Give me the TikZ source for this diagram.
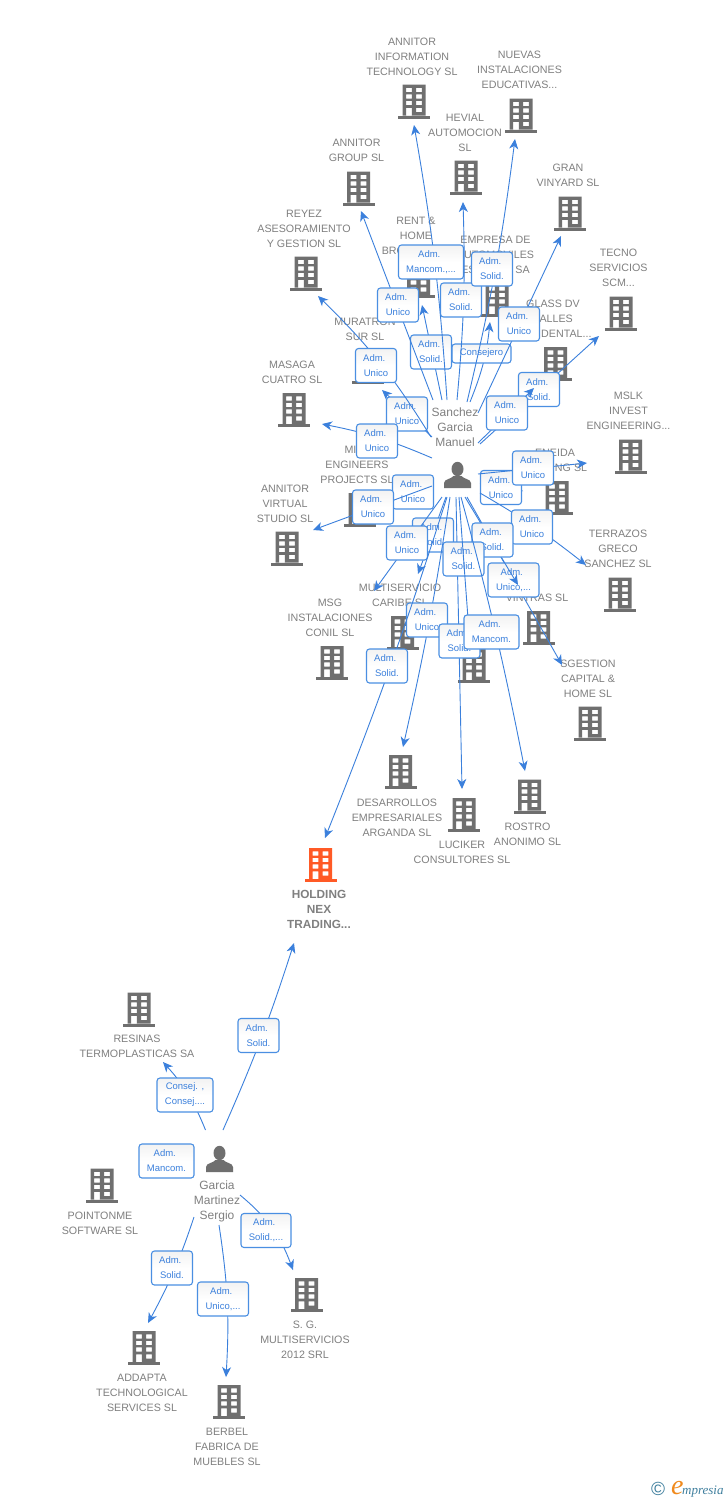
\documentclass[tikz,border=0pt]{standalone}
\usepackage{fontspec}
\setmainfont{Liberation Sans}
\newfontfamily\logofont{Liberation Serif}
\usetikzlibrary{arrows.meta}
\definecolor{linkblue}{HTML}{3B80DC}
\definecolor{edgeblue}{HTML}{4A8FE2}
\definecolor{labelgrey}{HTML}{808080}
\definecolor{iconGrey}{HTML}{6F6F6F}
\definecolor{hotorange}{HTML}{FF5A26}
\definecolor{logoteal}{HTML}{3F7F9E}
\definecolor{logoorange}{HTML}{F08A1D}
\tikzset{
  x=1pt,y=-1pt,
  conn/.style={draw=linkblue,line width=0.9pt,-{Stealth[length=10pt,width=9pt,inset=3pt]}},
  badge/.style={draw=edgeblue,line width=1.1pt,rounded corners=3pt,top color=black!5,bottom color=white,middle color=white,
    minimum height=34pt,inner sep=0pt,align=center,text=linkblue,font=\fontsize{9.5}{15}\selectfont},
  lbl/.style={inner sep=0pt,align=center,yshift=-0.7pt,text=labelgrey,font=\fontsize{10.7}{15}\selectfont},
  perlbl/.style={inner sep=0pt,align=center,text=labelgrey,font=\fontsize{12}{15}\selectfont},
  mainlbl/.style={inner sep=0pt,align=center,text=labelgrey,font=\fontsize{11.8}{15}\selectfont\bfseries},
  iconbox/.style={inner sep=0pt,minimum width=32pt,minimum height=34pt},
}
% building icon as a named node
\newcommand\bldg[3]{%
  \node[iconbox] (#1) at (#2) {};
  \begin{scope}[shift={(#1.center)}]
    \fill[#3,even odd rule]
      (-11.5,-17) rectangle (11.5,14)
      (-7.8,-13.7) rectangle (-2.2,-9.3) (2.2,-13.7) rectangle (7.8,-9.3)
      (-7.8,-7.2) rectangle (-2.2,-2.8) (2.2,-7.2) rectangle (7.8,-2.8)
      (-7.8,-0.7) rectangle (-2.2,3.7) (2.2,-0.7) rectangle (7.8,3.7)
      (-7.8,6.3) rectangle (-2.2,14) (2.2,6.3) rectangle (7.8,10.7);
    \fill[#3] (-16,14) rectangle (16,17);
  \end{scope}}
% person icon as a named node
\newcommand\person[2]{%
  \node[iconbox,minimum width=28pt,minimum height=27pt] (#1) at (#2) {};
  \begin{scope}[shift={(#1.center)}]
    \fill[iconGrey] (0,-6) ellipse (6 and 7.2);
    \fill[iconGrey] (-13.5,13) -- (-13.5,8) .. controls (-13.5,4) and (-6,4) .. (-4,1)
      -- (4,1) .. controls (6,4) and (13.5,4) .. (13.5,8) -- (13.5,13) -- cycle;
  \end{scope}}
% connector with its badge: id, start, tip, bend, badge position, width, text
\newcommand\link[7]{%
  \coordinate (s#1) at (#2);
  \coordinate (t#1) at (#3);
  \draw[conn] (s#1) to[#4] (t#1);
  \node[badge,minimum width=#6pt] (b#1) at (#5) {#7};}
\newcommand\ADM{Adm.\hspace*{3.5pt}}
\newcommand\AU{\ADM\\Unico}
\newcommand\AS{\ADM\\Solid.}
\begin{document}
\begin{tikzpicture}
\useasboundingbox (0,0) rectangle (728,1500);
\fill[white] (0,0) rectangle (728,1500);

% companies
\bldg{cInfo}{414,101.5}{iconGrey}
\node[lbl] (lInfo) at (412,56) {ANNITOR\\INFORMATION\\TECHNOLOGY SL};
\bldg{cNuevas}{521,115.5}{iconGrey}
\node[lbl] (lNuevas) at (519.5,69) {NUEVAS\\INSTALACIONES\\EDUCATIVAS...};
\bldg{cHevial}{466,177.5}{iconGrey}
\node[lbl] (lHevial) at (465,132) {HEVIAL\\AUTOMOCION\\SL};
\bldg{cGroup}{358.5,188.5}{iconGrey}
\node[lbl] (lGroup) at (356.5,149.5) {ANNITOR\\GROUP SL};
\bldg{cGran}{570,213.5}{iconGrey}
\node[lbl] (lGran) at (568,174.5) {GRAN\\VINYARD SL};
\bldg{cReyez}{306,273.5}{iconGrey}
\node[lbl] (lReyez) at (304,228) {REYEZ\\ASESORAMIENTO\\Y GESTION SL};
\bldg{cRent}{418.5,281}{iconGrey}
\node[lbl] (lRent) at (416,235) {RENT \&\\HOME\\BROKERS SL};
\bldg{cEmpresa}{497,300}{iconGrey}
\node[lbl] (lEmpresa) at (495.5,254) {EMPRESA DE\\AUTOMOVILES\\ESCOLAR SA};
\bldg{cTecno}{621,313.5}{iconGrey}
\node[lbl] (lTecno) at (618.5,267) {TECNO\\SERVICIOS\\SCM...};
\bldg{cGlass}{555.5,364}{iconGrey}
\node[lbl] (lGlass) at (553,318) {GLASS DV\\VALLES\\OCCIDENTAL...};
\bldg{cMurat}{367.5,367}{iconGrey}
\node[lbl] (lMurat) at (365,328.5) {MURATRON\\SUR SL};
\bldg{cMasaga}{294,410}{iconGrey}
\node[lbl] (lMasaga) at (292,371.5) {MASAGA\\CUATRO SL};
\bldg{cMslk}{630.5,456.5}{iconGrey}
\node[lbl] (lMslk) at (628.5,410) {MSLK\\INVEST\\ENGINEERING...};
\bldg{cEneida}{557,498}{iconGrey}
\node[lbl] (lEneida) at (555,459.5) {ENEIDA\\TRADING SL};
\bldg{cMi}{360,510}{iconGrey}
\node[lbl] (lMi) at (357,464) {MILA\\ENGINEERS\\PROJECTS SL};
\bldg{cVirtual}{287,548.5}{iconGrey}
\node[lbl] (lVirtual) at (285,503) {ANNITOR\\VIRTUAL\\STUDIO SL};
\bldg{cTerra}{620,594.5}{iconGrey}
\node[lbl] (lTerra) at (618,548) {TERRAZOS\\GRECO\\SANCHEZ SL};
\bldg{cVintras}{538.5,628}{iconGrey}
\node[lbl] (lVintras) at (537,597) {VINTRAS SL};
\bldg{cMulti}{402.5,633}{iconGrey}
\node[lbl] (lMulti) at (400,594.5) {MULTISERVICIO\\CARIBE SL};
\bldg{cMsg}{332,663}{iconGrey}
\node[lbl] (lMsg) at (330,617) {MSG\\INSTALACIONES\\CONIL  SL};
\bldg{cHidden}{474,666}{iconGrey}
\bldg{cSges}{590,723.5}{iconGrey}
\node[lbl] (lSges) at (588,678) {SGESTION\\CAPITAL \&\\HOME SL};
\bldg{cDesa}{400.5,772}{iconGrey}
\node[lbl] (lDesa) at (397,817) {DESARROLLOS\\EMPRESARIALES\\ARGANDA SL};
\bldg{cRostro}{529.5,796.5}{iconGrey}
\node[lbl] (lRostro) at (527.5,833.5) {ROSTRO\\ANONIMO  SL};
\bldg{cLuci}{464,815}{iconGrey}
\node[lbl] (lLuci) at (462,851.5) {LUCIKER\\CONSULTORES SL};
\bldg{cHold}{320.5,865}{hotorange}
\node[mainlbl] (lHold) at (319,909) {HOLDING\\NEX\\TRADING...};
\bldg{cResinas}{139,1009.5}{iconGrey}
\node[lbl] (lResinas) at (137,1045.5) {RESINAS\\TERMOPLASTICAS SA};
\bldg{cPoint}{102,1185.5}{iconGrey}
\node[lbl] (lPoint) at (100,1222.5) {POINTONME\\SOFTWARE SL};
\bldg{cSg}{306.5,1295}{iconGrey}
\node[lbl] (lSg) at (305,1339) {S.  G.\\MULTISERVICIOS\\2012 SRL};
\bldg{cAdd}{144,1348}{iconGrey}
\node[lbl] (lAdd) at (142,1392) {ADDAPTA\\TECHNOLOGICAL\\SERVICES SL};
\bldg{cBer}{229,1402}{iconGrey}
\node[lbl] (lBer) at (227,1446) {BERBEL\\FABRICA DE\\MUEBLES SL};

% people
\person{pA}{457.5,475}
\node[perlbl] (lA) at (455,427) {Sanchez\\Garcia\\Manuel};
\person{pB}{219.5,1159}
\node[perlbl] (lB) at (217,1201) {Garcia\\Martinez\\Sergio};

% connectors of the first person
\link{Empresa}{470,402}{490,322}{bend right=8}{481.5,353.5}{59pt,minimum height=19}{Consejero}
\link{Tecno}{480,444}{599,336}{}{539,389.5}{41}{\AS}
\link{Glass}{478,443}{534,388}{}{507,413}{41}{\AU}
\link{Rent}{442,400}{422,305}{}{431,352}{41}{\AS}
\link{Group}{433,400}{361,211}{}{398,305}{41}{\AU}
\link{Info}{447,400}{414,125}{bend right=3}{431,262}{65}{\ADM\\Mancom.,...}
\link{Hevial}{457,400}{463,202}{bend right=3.5}{461,300}{41}{\AS}
\link{Nuevas}{467,402}{515,139}{bend right=3}{492,269}{41}{\AS}
\link{Gran}{478,413}{561,236}{}{519,324}{41}{\AU}
\link{Murat}{432,437}{382,390}{}{407,414}{41}{\AU}
\link{Reyez}{431,437}{318,296}{bend right=7}{376,365.5}{41}{\AU}
\link{Masaga}{432,458}{322,424}{bend right=6}{377,441}{41}{\AU}
\link{Eneida}{480,483}{523,491}{}{501,487.5}{41}{\AU}
\link{Mslk}{478,474}{587,463}{}{533,468}{41}{\AU}
\link{Terra}{480,493}{586,565}{bend left=4}{532,527}{41}{\AU}
\link{Mi}{433,490}{395,500}{}{413,492}{41}{\AU}
\link{Virtual}{432,486}{313,530}{}{373,507}{41}{\AU}
\link{Multi}{446,497}{418,574}{}{433,535}{41}{\AS}
\link{Msg}{442,497}{374,591}{}{407,543}{41}{\AU}
\link{Sges}{467,497}{562,665}{}{513.5,580}{51}{\ADM\\Unico,...}
\link{Vintras}{465,497}{518,585}{}{492.5,540}{41}{\AS}
\link{Luci}{456,497}{462,789}{}{463.5,559}{41}{\AS}
\link{Desa}{450,497}{403,747}{bend left=2}{427,620}{41}{\AU}
\link{Hidden}{459,497}{469,632}{}{459.5,641}{41}{\AS}
\link{Rostro}{461,497}{525,771}{bend left=2}{491.5,632}{55}{\ADM\\Mancom.}
\link{HoldA}{447,497}{325,838}{bend left=2}{387,666}{41}{\AS}

% connectors of the second person
\link{HoldB}{223,1130}{294,943}{bend right=3}{258.5,1035.5}{41}{\AS}
\link{Resinas}{205.5,1130}{163,1062}{bend right=10}{185,1095}{56}{Consej. ,\\Consej....}
\link{Point}{185,1160}{140,1168}{}{166.5,1161}{55}{\ADM\\Mancom.}
\link{Sg}{240,1195}{293,1270}{bend left=15}{266,1230.5}{50}{\ADM\\Solid.,...}
\link{Add}{194,1217}{148,1323}{bend left=5}{172,1268}{41}{\AS}
\link{Ber}{219,1225}{226,1377}{bend left=6}{223,1299}{51}{\ADM\\Unico,...}

% logo
\node[inner sep=0pt,text=logoteal,font=\fontsize{19}{19}\selectfont] (logoC) at (658,1489) {©};
\node[inner sep=0pt,anchor=base west,font=\logofont\itshape\fontsize{13}{13}\selectfont] (logoT) at (671,1494)
  {\textcolor{logoorange}{\fontsize{28}{28}\selectfont e}\hspace{-1.5pt}\textcolor{logoteal}{mpresia}};
\end{tikzpicture}
\end{document}
